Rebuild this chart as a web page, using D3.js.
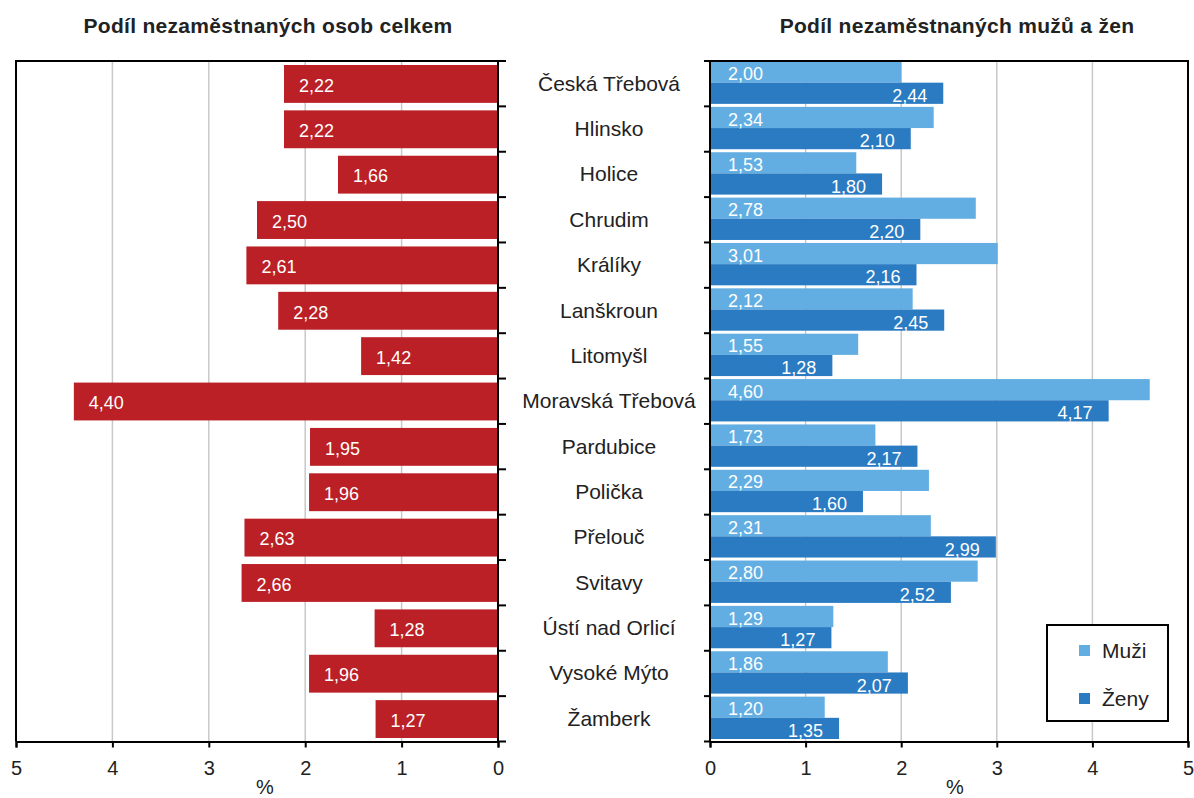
<!DOCTYPE html>
<html lang="cs">
<head>
<meta charset="UTF-8">
<title>Podíl nezaměstnaných osob</title>
<style>
    body { margin: 0; background: #fff; font-family: "Liberation Sans", Arial, sans-serif; }
    svg text { fill: #222; }
</style>
</head>
<body>
<svg id="chart" width="1194" height="798"></svg>
<script src="https://d3js.org/d3.v7.min.js"></script>
<script>
// data
const mesta = ["Česká Třebová", "Hlinsko", "Holice", "Chrudim", "Králíky", "Lanškroun", "Litomyšl",
    "Moravská Třebová", "Pardubice", "Polička", "Přelouč", "Svitavy", "Ústí nad Orlicí", "Vysoké Mýto", "Žamberk"];
const celkem = [2.22, 2.22, 1.66, 2.50, 2.61, 2.28, 1.42, 4.40, 1.95, 1.96, 2.63, 2.66, 1.28, 1.96, 1.27];
const muzi = [2.00, 2.34, 1.53, 2.78, 3.01, 2.12, 1.55, 4.60, 1.73, 2.29, 2.31, 2.80, 1.29, 1.86, 1.20];
const zeny = [2.44, 2.10, 1.80, 2.20, 2.16, 2.45, 1.28, 4.17, 2.17, 1.60, 2.99, 2.52, 1.27, 2.07, 1.35];
const ticks = [0, 1, 2, 3, 4, 5];

const svg = d3.select("#chart");
const plotTop = 61, plotBottom = 741.5;
const fmt = v => v.toFixed(2).replace(".", ",");

const y = d3.scaleBand().domain(mesta).range([plotTop, plotBottom]);

// ---- levý graf (celkem) ----
const xL = d3.scaleLinear().domain([5, 0]).range([16, 498]);

svg.append("g").selectAll("line").data([1, 2, 3, 4]).join("line")
    .attr("x1", d => xL(d)).attr("x2", d => xL(d))
    .attr("y1", plotTop).attr("y2", plotBottom)
    .attr("stroke", "#c8c8c8").attr("stroke-width", 1.5);

svg.append("g").selectAll("rect").data(celkem).join("rect")
    .attr("x", d => xL(d))
    .attr("y", (d, i) => y(mesta[i]) + 4)
    .attr("width", d => xL(0) - xL(d))
    .attr("height", y.bandwidth() - 7.5)
    .attr("fill", "#bb2026");

svg.append("g").selectAll("text").data(celkem).join("text")
    .attr("x", d => xL(d) + 15)
    .attr("y", (d, i) => y(mesta[i]) + y.bandwidth() / 2 + 8)
    .attr("font-size", 18)
    .style("fill", "#fff")
    .text(d => fmt(d));

// rámeček
svg.append("path")
    .attr("d", `M${xL(0)},${plotTop}H16V${plotBottom}`)
    .attr("fill", "none").attr("stroke", "#000").attr("stroke-width", 2);

const axL = svg.append("g").attr("transform", `translate(0,${plotBottom})`)
    .call(d3.axisBottom(xL).tickValues(ticks).tickSize(6).tickFormat(d3.format("d")));
axL.select(".domain").attr("stroke-width", 2);
axL.selectAll(".tick line").attr("stroke-width", 2);
axL.selectAll("text").attr("font-size", 20).attr("y", 33).attr("dy", null).style("fill", "#222");

// kategorie - tick marky vpravo
svg.append("g").selectAll("line").data(d3.range(mesta.length + 1)).join("line")
    .attr("x1", xL(0)).attr("x2", xL(0) + 8)
    .attr("y1", i => plotTop + i * y.step()).attr("y2", i => plotTop + i * y.step())
    .attr("stroke", "#000").attr("stroke-width", 2);
svg.append("line")
    .attr("x1", xL(0)).attr("x2", xL(0)).attr("y1", plotTop).attr("y2", plotBottom)
    .attr("stroke", "#000").attr("stroke-width", 2);

svg.append("text").attr("x", 265).attr("y", 794).attr("text-anchor", "middle")
    .attr("font-size", 20).text("%");

svg.append("text").attr("x", 268).attr("y", 33).attr("text-anchor", "middle")
    .attr("font-size", 21).attr("font-weight", "bold").attr("letter-spacing", 0.3)
    .text("Podíl nezaměstnaných osob celkem");

// názvy měst
svg.append("g").selectAll("text").data(mesta).join("text")
    .attr("x", 609)
    .attr("y", d => y(d) + y.bandwidth() / 2 + 7)
    .attr("text-anchor", "middle")
    .attr("font-size", 21)
    .text(d => d);

// ---- pravý graf (muži a ženy) ----
const xR = d3.scaleLinear().domain([0, 5]).range([710, 1188]);
const yIn = d3.scaleBand().domain(["m", "z"]).range([0.5, y.bandwidth() - 2.5]);

svg.append("g").selectAll("line").data([1, 2, 3, 4]).join("line")
    .attr("x1", d => xR(d)).attr("x2", d => xR(d))
    .attr("y1", plotTop).attr("y2", plotBottom)
    .attr("stroke", "#c8c8c8").attr("stroke-width", 1.5);

svg.append("g").selectAll("rect").data(muzi).join("rect")
    .attr("x", xR(0))
    .attr("y", (d, i) => y(mesta[i]) + yIn("m"))
    .attr("width", d => xR(d) - xR(0))
    .attr("height", yIn.bandwidth())
    .attr("fill", "#62aee2");

svg.append("g").selectAll("rect").data(zeny).join("rect")
    .attr("x", xR(0))
    .attr("y", (d, i) => y(mesta[i]) + yIn("z"))
    .attr("width", d => xR(d) - xR(0))
    .attr("height", yIn.bandwidth())
    .attr("fill", "#2a7bc2");

svg.append("g").selectAll("text").data(muzi).join("text")
    .attr("x", xR(0) + 18)
    .attr("y", (d, i) => y(mesta[i]) + yIn("m") + yIn.bandwidth() - 2.5)
    .attr("font-size", 18).style("fill", "#fff")
    .text(d => fmt(d));

svg.append("g").selectAll("text").data(zeny).join("text")
    .attr("x", d => xR(d) - 16)
    .attr("y", (d, i) => y(mesta[i]) + yIn("z") + yIn.bandwidth() - 2)
    .attr("text-anchor", "end")
    .attr("font-size", 18).style("fill", "#fff")
    .text(d => fmt(d));

svg.append("path")
    .attr("d", `M${xR(0)},${plotTop}H${xR(5)}V${plotBottom}`)
    .attr("fill", "none").attr("stroke", "#000").attr("stroke-width", 2);

const axR = svg.append("g").attr("transform", `translate(0,${plotBottom})`)
    .call(d3.axisBottom(xR).tickValues(ticks).tickSize(6).tickFormat(d3.format("d")));
axR.select(".domain").attr("stroke-width", 2);
axR.selectAll(".tick line").attr("stroke-width", 2);
axR.selectAll("text").attr("font-size", 20).attr("y", 33).attr("dy", null).style("fill", "#222");

svg.append("g").selectAll("line").data(d3.range(mesta.length + 1)).join("line")
    .attr("x1", xR(0) - 6).attr("x2", xR(0))
    .attr("y1", i => plotTop + i * y.step()).attr("y2", i => plotTop + i * y.step())
    .attr("stroke", "#000").attr("stroke-width", 2);
svg.append("line")
    .attr("x1", xR(0)).attr("x2", xR(0)).attr("y1", plotTop).attr("y2", plotBottom)
    .attr("stroke", "#000").attr("stroke-width", 2);

svg.append("text").attr("x", 955).attr("y", 794).attr("text-anchor", "middle")
    .attr("font-size", 20).text("%");

svg.append("text").attr("x", 957).attr("y", 33).attr("text-anchor", "middle")
    .attr("font-size", 21).attr("font-weight", "bold").attr("letter-spacing", 0.3)
    .text("Podíl nezaměstnaných mužů a žen");

// legenda
const leg = svg.append("g").attr("transform", "translate(1047,625)");
leg.append("rect").attr("width", 121).attr("height", 96)
    .attr("fill", "#fff").attr("stroke", "#000").attr("stroke-width", 2);
const polozky = [["Muži", "#62aee2"], ["Ženy", "#2a7bc2"]];
polozky.forEach((p, i) => {
    leg.append("rect").attr("x", 32).attr("y", 20 + i * 48).attr("width", 11).attr("height", 11).attr("fill", p[1]);
    leg.append("text").attr("x", 55).attr("y", 33 + i * 48).attr("font-size", 21).text(p[0]);
});
</script>
</body>
</html>
